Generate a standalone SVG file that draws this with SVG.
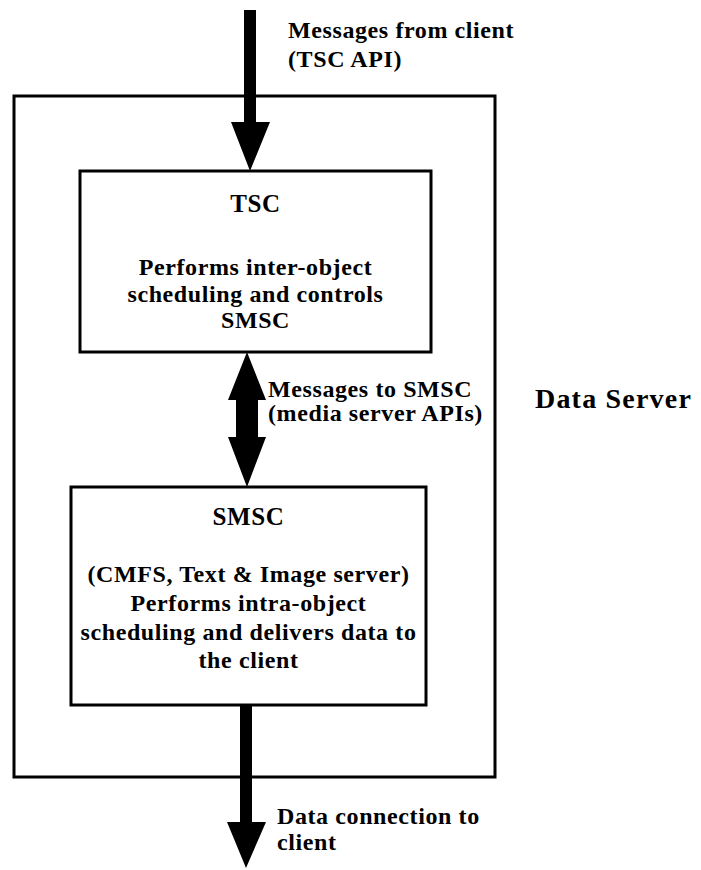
<svg xmlns="http://www.w3.org/2000/svg" width="701" height="870" viewBox="0 0 701 870">
<style>
.box{fill:#fff;stroke:#000;stroke-width:3}
.t{font-family:"Liberation Serif","Times New Roman",serif;font-weight:bold;font-size:24px;fill:#000;letter-spacing:0.6px}
.h{font-size:25px}
.c{text-anchor:middle}
.arr{fill:#000;stroke:none}
</style>
<rect width="701" height="870" fill="#fff"/>
<g id="data-server">
<rect class="box" x="14" y="96" width="481" height="681" fill="none"/>
<text class="t" x="535" y="408" style="font-size:28px;letter-spacing:1.2px">Data Server</text>
</g>
<g id="tsc">
<rect class="box" x="80" y="171" width="351" height="181"/>
<text class="t h c" x="255.5" y="212">TSC</text>
<text class="t c" x="255.5" y="275">Performs inter-object</text>
<text class="t c" x="255.5" y="302">scheduling and controls</text>
<text class="t c" x="255.5" y="328">SMSC</text>
</g>
<g id="smsc">
<rect class="box" x="71" y="487" width="355" height="218"/>
<text class="t h c" x="248.5" y="525">SMSC</text>
<text class="t c" x="248.5" y="582">(CMFS, Text &amp; Image server)</text>
<text class="t c" x="248.5" y="611">Performs intra-object</text>
<text class="t c" x="248.5" y="640">scheduling and delivers data to</text>
<text class="t c" x="248.5" y="668">the client</text>
</g>
<g id="connectors">
<polygon class="arr" points="244,10 256,10 256,122 270,122 250,171 231,122 244,122"/>
<polygon class="arr" points="247,352 266,400 258,400 258,437 266,437 247,487 228,437 236,437 236,400 228,400"/>
<polygon class="arr" points="240,705 252,705 252,822 266,822 246,868 227,822 240,822"/>
</g>
<g id="labels">
<text class="t" x="288" y="38">Messages from client</text>
<text class="t" x="288" y="67">(TSC API)</text>
<text class="t" x="268" y="397">Messages to SMSC</text>
<text class="t" x="268" y="421">(media server APIs)</text>
<text class="t" x="277" y="824">Data connection to</text>
<text class="t" x="277" y="850">client</text>
</g>
</svg>
